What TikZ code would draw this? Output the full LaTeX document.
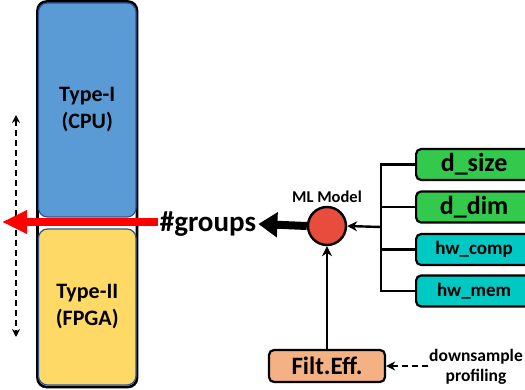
\documentclass[tikz,border=0pt]{standalone}
\usepackage{fontspec}
\setmainfont{Carlito}
\usetikzlibrary{arrows.meta,calc}
\definecolor{cpublue}{HTML}{5B9BD5}
\definecolor{edgeblue}{HTML}{2F5597}
\definecolor{fpgayellow}{HTML}{FFD966}
\definecolor{featgreen}{HTML}{33C94C}
\definecolor{hwteal}{HTML}{00C8C3}
\definecolor{filtorange}{HTML}{F4B183}
\definecolor{modelred}{HTML}{E74C3C}
\tikzset{
  devbox/.style={rounded corners=9pt, draw=edgeblue, line width=1.2pt,
    minimum width=97.5pt, align=center, font=\bfseries\fontsize{22}{27}\selectfont},
  featbox/.style={rounded corners=5pt, draw=black, line width=2.2pt,
    minimum width=116pt, minimum height=31pt, anchor=west, inner sep=0pt},
  wire/.style={line width=2.4pt, draw=black},
  tip/.style={-{Stealth[length=10pt,width=10pt]}},
}
\begin{document}
\begin{tikzpicture}[x=1pt,y=-1pt]
\clip (0,0) rectangle (525,390);
\fill[white] (0,0) rectangle (525,390);

% device column: black frame with the two device types
\draw[line width=2.6pt, rounded corners=9pt, fill=white] (37.5,1.5) rectangle (137,387);
\node[devbox, fill=cpublue, minimum height=214pt] (cpu) at (87.25,110) {Type-I\\(CPU)};
\node[devbox, fill=fpgayellow, minimum height=156pt] (fpga) at (87.25,307) {Type-II\\(FPGA)};

% sliding boundary indicator
\coordinate (up) at (16,115);
\coordinate (down) at (16,337);
\draw[line width=1.6pt, dash pattern=on 6pt off 4pt,
  {Stealth[length=8pt,width=8pt]}-{Stealth[length=8pt,width=8pt]}] (up) -- (down);

% predicted number of groups
\node[font=\bfseries\fontsize{29}{32}\selectfont, inner sep=2pt] (groups) at (208,224) {\#groups};
\coordinate (redtip) at (2,222);
\draw[red, line width=8pt, -{Triangle[length=25pt,width=22pt]}]
  (groups.west |- redtip) -- (redtip);

% model
\node[circle, fill=modelred, draw=black, line width=2.4pt, minimum size=38pt, inner sep=0pt]
  (ml) at (327,226) {};
\node[font=\bfseries\fontsize{16.5}{18}\selectfont, anchor=south] (mllabel) at (327,206) {ML Model};
\draw[line width=8pt, -{Triangle[length=19pt,width=24pt]}] (ml.west) -- (groups.east);

% input features
\node[featbox, fill=featgreen, font=\bfseries\fontsize{26}{29}\selectfont] (dsize) at (415,164.5) {d\_size};
\node[featbox, fill=featgreen, font=\bfseries\fontsize{26}{29}\selectfont] (ddim) at (415,207) {d\_dim};
\node[featbox, fill=hwteal, font=\bfseries\fontsize{19}{22}\selectfont] (hwcomp) at (415,249.5) {hw\_comp};
\node[featbox, fill=hwteal, font=\bfseries\fontsize{19}{22}\selectfont] (hwmem) at (415,291) {hw\_mem};

\coordinate (bus) at (381,227);
\draw[wire] (bus) |- (dsize.west);
\draw[wire] (bus) |- (ddim.west);
\draw[wire] (bus) |- (hwcomp.west);
\draw[wire] (bus) |- (hwmem.west);
\draw[wire, tip] (bus) -- (ml.east);

% filter efficiency input
\node[rounded corners=5pt, draw=black, line width=2.2pt, fill=filtorange,
  minimum width=116pt, minimum height=32pt, inner sep=0pt,
  font=\bfseries\fontsize{25}{28}\selectfont] (filt) at (327,366) {Filt.Eff.};
\draw[wire, tip] (filt.north) -- (ml.south);

\node[font=\bfseries\fontsize{17.5}{20}\selectfont, align=center, inner sep=1pt]
  (profiling) at (476,367) {downsample\\profiling};
\draw[line width=2pt, dash pattern=on 6pt off 4pt, -{Stealth[length=9pt,width=9pt]}]
  (profiling.west |- filt.east) -- (filt.east);
\end{tikzpicture}
\end{document}
